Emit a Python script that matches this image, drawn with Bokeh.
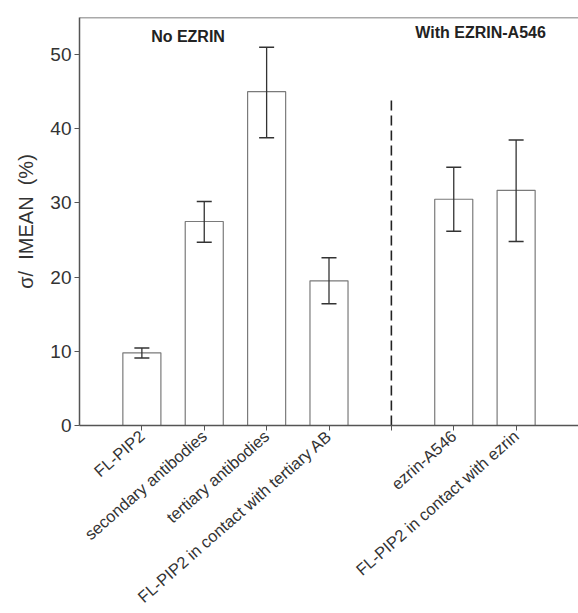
import math
from bokeh.plotting import figure
from bokeh.models import FactorRange, Range1d, ColumnDataSource, Label, Span
from bokeh.embed import file_html
from bokeh.resources import INLINE

categories = ["FL-PIP2", "secondary antibodies", "tertiary antibodies",
              "FL-PIP2 in contact with tertiary AB", " ",
              "ezrin-A546", "FL-PIP2 in contact with ezrin"]
bar_cats = ["FL-PIP2", "secondary antibodies", "tertiary antibodies",
            "FL-PIP2 in contact with tertiary AB",
            "ezrin-A546", "FL-PIP2 in contact with ezrin"]
values = [9.8, 27.5, 45.0, 19.5, 30.5, 31.7]
err_low = [9.1, 24.7, 38.8, 16.4, 26.2, 24.8]
err_high = [10.45, 30.2, 51.0, 22.6, 34.8, 38.5]
divider_cat = " "
divider_top = 44.0
group_labels = ["No EZRIN", "With EZRIN-A546"]
y_label = "σ/\u00a0\u00a0IMEAN\u00a0\u00a0(%)"

src = ColumnDataSource(dict(x=bar_cats, top=values, lo=err_low, hi=err_high))

p = figure(x_range=FactorRange(*categories, range_padding=0.5, range_padding_units="absolute"),
           y_range=Range1d(0, 55),
           frame_width=499, frame_height=408,
           min_border_left=79, min_border_top=17, min_border_right=0, min_border_bottom=188,
           output_backend="svg", toolbar_location=None)

p.vbar(x="x", top="top", width=0.61, source=src, fill_color="white",
       line_color="#7a7a7a", line_width=1.2)
p.segment(x0="x", y0="lo", x1="x", y1="hi", source=src, line_color="#333333", line_width=1.3)
p.scatter(x="x", y="lo", source=src, marker="dash", size=15, line_color="#333333", line_width=1.5)
p.scatter(x="x", y="hi", source=src, marker="dash", size=15, line_color="#333333", line_width=1.5)

p.segment(x0=[divider_cat], y0=[0], x1=[divider_cat], y1=[divider_top],
          line_color="#222222", line_width=1.6, line_dash="10 5")

p.add_layout(Span(location=55, dimension="width", line_color="#555555", line_width=1.5))

p.add_layout(Label(x=1.24, y=52.4, text=group_labels[0],
                   text_font="Liberation Sans", text_font_style="bold", text_font_size="16px",
                   text_color="#222222", text_align="center", text_baseline="middle"))
p.add_layout(Label(x=5.93, y=53.0, text=group_labels[1],
                   text_font="Liberation Sans", text_font_style="bold", text_font_size="16px",
                   text_color="#222222", text_align="center", text_baseline="middle"))

p.grid.visible = False
p.outline_line_color = None
p.background_fill_color = "white"
p.border_fill_color = "white"

p.yaxis.ticker = [0, 10, 20, 30, 40, 50]
p.yaxis.axis_label = y_label
p.yaxis.axis_label_text_font = "Liberation Sans"
p.yaxis.axis_label_text_font_style = "normal"
p.yaxis.axis_label_text_font_size = "20px"
p.yaxis.axis_label_text_color = "#333333"
p.yaxis.axis_label_standoff = 10
p.yaxis.major_label_text_font = "Liberation Sans"
p.yaxis.major_label_text_font_size = "19px"
p.yaxis.major_label_text_color = "#333333"
p.yaxis.minor_tick_line_color = None
p.yaxis.major_tick_out = 5
p.yaxis.major_tick_in = 0
p.yaxis.axis_line_color = "#555555"
p.yaxis.axis_line_width = 1.5
p.yaxis.major_tick_line_color = "#555555"
p.yaxis.major_label_standoff = 3

xa = p.below[0]
xa.major_label_orientation = 0.72
xa.major_label_text_font = "Liberation Sans"
xa.major_label_text_font_size = "16.5px"
xa.major_label_text_color = "#333333"
xa.major_tick_out = 5
xa.major_tick_in = 0
xa.axis_line_color = "#555555"
xa.axis_line_width = 1.5
xa.major_tick_line_color = "#555555"
xa.major_label_standoff = 3

open("out.html", "w").write(file_html(p, INLINE))
